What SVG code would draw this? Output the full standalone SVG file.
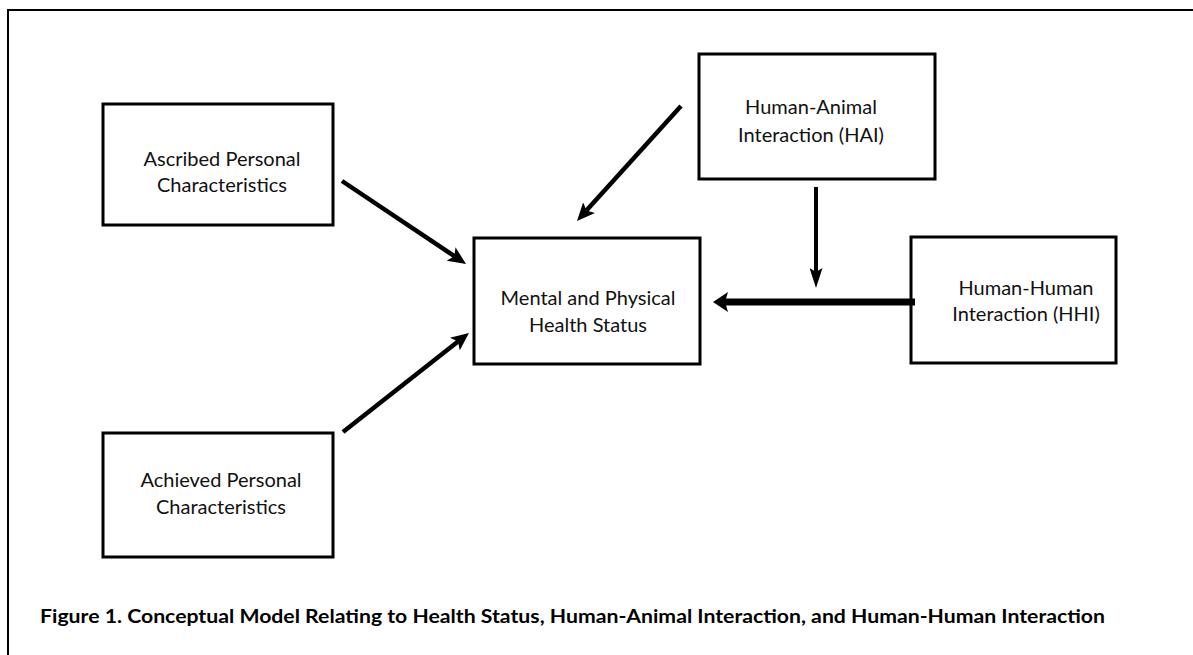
<svg xmlns="http://www.w3.org/2000/svg" width="1193" height="655" viewBox="0 0 1193 655">
<defs>
<style>
.box{fill:#fff;stroke:#000;stroke-width:3}
.lbl{font-family:Lato,"Open Sans","Liberation Sans",sans-serif;font-size:20px;fill:#111;text-anchor:middle}
.cap{font-family:Lato,"Open Sans","Liberation Sans",sans-serif;font-size:19px;font-weight:bold;fill:#000}
.conn{stroke:#000;fill:none}
</style>
<marker id="ah" markerUnits="userSpaceOnUse" markerWidth="18" markerHeight="16" viewBox="0 0 18 16" refX="4" refY="8" orient="auto"><path d="M0,0 L18,8 L0,16 L4,8 z" fill="#000"/></marker>
<marker id="ahv" markerUnits="userSpaceOnUse" markerWidth="20" markerHeight="13" viewBox="0 0 20 13" refX="4" refY="6.5" orient="auto"><path d="M0,0 L20,6.5 L0,13 L4,6.5 z" fill="#000"/></marker>
<marker id="aht" markerUnits="userSpaceOnUse" markerWidth="15" markerHeight="20" viewBox="0 0 15 20" refX="3" refY="10" orient="auto"><path d="M0,0 L15,10 L0,20 L3,10 z" fill="#000"/></marker>
</defs>
<rect width="1193" height="655" fill="#fff"/>
<path d="M8,655 V10 H1193" fill="none" stroke="#000" stroke-width="2"/>
<g id="ascribed"><rect class="box" x="103" y="104" width="230" height="121"/><text class="lbl" x="222" y="166">Ascribed Personal</text><text class="lbl" x="222" y="192">Characteristics</text></g>
<g id="achieved"><rect class="box" x="103" y="433" width="230" height="124"/><text class="lbl" x="221" y="487">Achieved Personal</text><text class="lbl" x="221" y="514">Characteristics</text></g>
<g id="health"><rect class="box" x="474" y="238" width="226" height="126"/><text class="lbl" x="588" y="305">Mental and Physical</text><text class="lbl" x="588" y="332">Health Status</text></g>
<g id="hai"><rect class="box" x="699" y="54" width="236" height="125"/><text class="lbl" x="811" y="114">Human-Animal</text><text class="lbl" x="811" y="142">Interaction (HAI)</text></g>
<g id="hhi"><rect class="box" x="911" y="237" width="205" height="126"/><text class="lbl" x="1026" y="295">Human-Human</text><text class="lbl" x="1026" y="321">Interaction (HHI)</text></g>
<g id="connectors">
<line class="conn" stroke-width="4.5" x1="342" y1="181" x2="454.4" y2="256.2" marker-end="url(#ah)"/>
<line class="conn" stroke-width="4.5" x1="343" y1="432" x2="458" y2="341.6" marker-end="url(#ah)"/>
<line class="conn" stroke-width="4.5" x1="681" y1="106" x2="586.4" y2="210.6" marker-end="url(#ah)"/>
<line class="conn" stroke-width="4" x1="816" y1="187" x2="816" y2="272" marker-end="url(#ahv)"/>
<line class="conn" stroke-width="7" x1="915" y1="302" x2="725" y2="302" marker-end="url(#aht)"/>
</g>
<text class="cap" x="40" y="623" textLength="1065" lengthAdjust="spacingAndGlyphs">Figure 1. Conceptual Model Relating to Health Status, Human-Animal Interaction, and Human-Human Interaction</text>
</svg>
